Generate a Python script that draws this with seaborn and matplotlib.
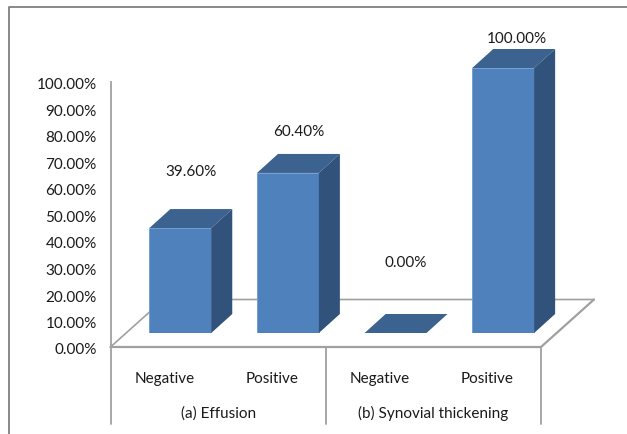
import matplotlib
matplotlib.use("Agg")
import matplotlib.pyplot as plt
from matplotlib.lines import Line2D
from matplotlib.transforms import ScaledTranslation
import pandas as pd
import seaborn as sns

groups = ["(a) Effusion", "(b) Synovial thickening"]
categories = ["Negative", "Positive", "Negative", "Positive"]
values = [39.6, 60.4, 0.0, 100.0]
y_ticks = [0, 10, 20, 30, 40, 50, 60, 70, 80, 90, 100]

W, H = 627, 435
FRONT, TOP, SIDE = "#4F81BD", "#3C6290", "#31527A"
LINE = "#A0A0A0"
FONT = "Lato"
FS = 11

sns.set_theme(style="white")
plt.rcParams["font.family"] = [FONT, "DejaVu Sans"]

fig = plt.figure(figsize=(W / 100, H / 100), dpi=100, facecolor="white")


def axes_box(left, top_px, right, bottom_px):
    return [left / W, 1 - bottom_px / H, (right - left) / W, (bottom_px - top_px) / H]


# Back axes: value scale, floor outline and category labels
wall = fig.add_axes(axes_box(110.5, 83, 541, 348), facecolor="none")
wall.set_xlim(-0.5, 3.5)
wall.set_ylim(0, 100)
px_x = 4 / 430.5
px_y = 100 / 265
for name, spine in wall.spines.items():
    spine.set_visible(name == "left")
spine = wall.spines["left"]
spine.set_color(LINE)
spine.set_linewidth(1.3)
wall.set_yticks(y_ticks, [f"{t:.2f}%" for t in y_ticks])
wall.set_xticks(range(4), categories)
wall.tick_params(axis="y", length=0, pad=10, labelsize=FS, labelcolor="#1A1A1A")
wall.tick_params(axis="x", length=0, pad=17.5, labelsize=FS, labelcolor="#1A1A1A")
nudge = ScaledTranslation(0, -1 / 100, fig.dpi_scale_trans)
for label in wall.get_yticklabels():
    label.set_transform(label.get_transform() + nudge)

floor_dx, floor_dy = 53 * px_x, 47.5 * px_y
wall.plot([-0.5, 3.5, 3.5 + floor_dx], [0, 0, floor_dy], color=LINE, lw=1.6, clip_on=False)
wall.plot([-0.5, -0.5 + floor_dx, 3.5 + floor_dx], [0, floor_dy, floor_dy],
          color=LINE, lw=1.2, clip_on=False)
low = -77 * px_y
for x in (-0.5, 1.5, 3.5):
    wall.plot([x, x], [low, 0], color=LINE, lw=1.3, clip_on=False)
for i, g in enumerate(groups):
    wall.text(0.5 + 2 * i, -65.5 * px_y, g, ha="center", va="center",
              fontsize=FS, color="#1A1A1A")

# Front axes: the bars stand on the floor, lifted and shifted from the wall
bars = fig.add_axes(axes_box(126.5, 69, 557, 334), facecolor="none")
frame = pd.DataFrame({"slot": range(4), "share": values})
sns.barplot(data=frame, x="slot", y="share", order=range(4), width=0.575,
            color=FRONT, saturation=1, ax=bars, native_scale=False,
            edgecolor="#6F9BD0", linewidth=0.6, zorder=3)
bars.set_xlim(-0.5, 3.5)
bars.set_ylim(0, 100)
bars.axis("off")

dx, dy = 21 * px_x, 19 * px_y
label_lift = [38, 23, 52, 11]
label_shift = [0, 0, 0, 3]
for patch, value, lift, shift in zip(bars.patches, values, label_lift, label_shift):
    x0, x1 = patch.get_x(), patch.get_x() + patch.get_width()
    bars.fill([x0, x0 + dx, x1 + dx, x1], [value, value + dy, value + dy, value],
              color=TOP, lw=0, clip_on=False, zorder=3)
    if value > 0:
        bars.fill([x1, x1 + dx, x1 + dx, x1], [0, dy, value + dy, value],
                  color=SIDE, lw=0, clip_on=False, zorder=3)
    bars.text((x0 + x1 + dx) / 2 + shift * px_x, value + dy + lift * px_y,
              f"{value:.2f}%", ha="center", va="center", fontsize=FS,
              color="#1A1A1A", clip_on=False)

# Picture frame along the top and left edges
fig.add_artist(Line2D([9 / W, 9 / W, 1], [0, 1 - 8 / H, 1 - 8 / H],
                      color="#808080", lw=1.3, transform=fig.transFigure))

fig.savefig("out.png", dpi=100, facecolor="white")
